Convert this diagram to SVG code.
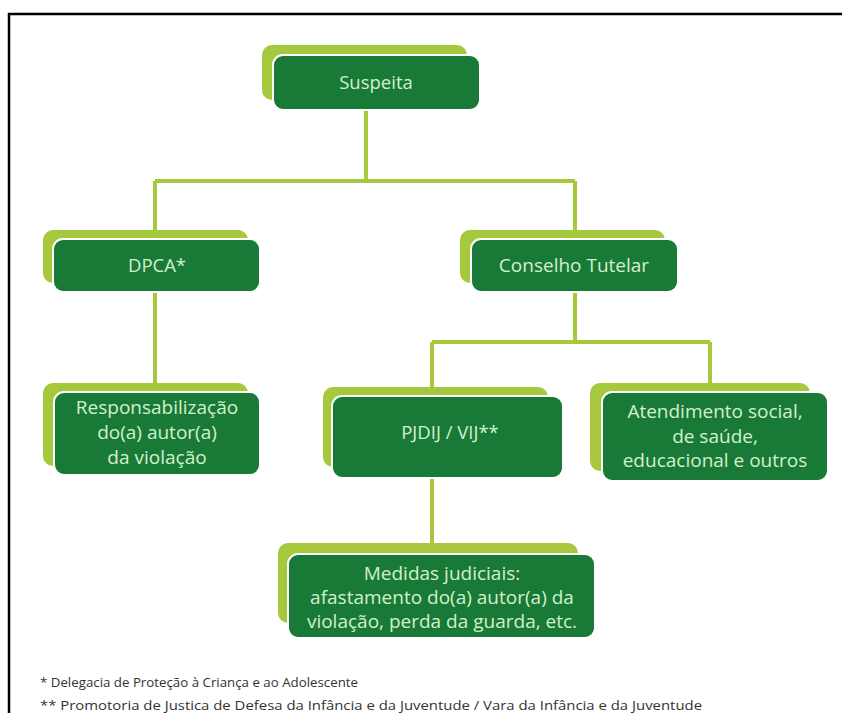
<svg xmlns="http://www.w3.org/2000/svg" width="842" height="713" viewBox="0 0 842 713">
<style>
.back{fill:#a5c83c}
.box{fill:#197a38;stroke:#ffffff;stroke-width:2}
.lbl{font-family:"Open Sans","DejaVu Sans",sans-serif;fill:#d3f0cc;text-anchor:middle}
.sm{font-size:18.5px}
.lg{font-size:19px}
.conn{fill:none;stroke:#a5c83c;stroke-width:4}
.note{font-family:"Open Sans","Liberation Sans",sans-serif;font-size:13px;fill:#333}
</style>
<rect width="842" height="713" fill="#ffffff"/>
<path d="M9 713 V14 H842" fill="none" stroke="#000" stroke-width="2.5"/>
<g id="connectors">
<path class="conn" d="M366 110 V181 M155 181 H575 M155 181 V238 M575 181 V238"/>
<path class="conn" d="M155 292 V391"/>
<path class="conn" d="M575 292 V342 M432 342 H710 M432 342 V396 M710 342 V391"/>
<path class="conn" d="M432 476 V554"/>
</g>
<g id="suspeita">
<rect class="back" x="262" y="45" width="205" height="55" rx="10"/>
<rect class="box" x="273" y="55" width="207" height="55" rx="10"/>
<text class="lbl sm" x="376" y="89">Suspeita</text>
</g>
<g id="dpca">
<rect class="back" x="43" y="230" width="205" height="53" rx="10"/>
<rect class="box" x="53" y="239" width="207" height="53" rx="10"/>
<text class="lbl sm" x="157" y="272">DPCA*</text>
</g>
<g id="conselho">
<rect class="back" x="460" y="230" width="205" height="53" rx="10"/>
<rect class="box" x="471" y="239" width="207" height="53" rx="10"/>
<text class="lbl lg" x="574" y="272">Conselho Tutelar</text>
</g>
<g id="responsabilizacao">
<rect class="back" x="43" y="383" width="205" height="83" rx="10"/>
<rect class="box" x="54" y="392" width="206" height="83" rx="10"/>
<text class="lbl lg" x="157" y="414">Responsabilização</text>
<text class="lbl lg" x="157" y="439">do(a) autor(a)</text>
<text class="lbl lg" x="157" y="464">da violação</text>
</g>
<g id="pjdij">
<rect class="back" x="323" y="387" width="225" height="80" rx="10"/>
<rect class="box" x="332" y="396" width="231" height="82" rx="10"/>
<text class="lbl sm" x="450" y="439">PJDIJ / VIJ**</text>
</g>
<g id="atendimento">
<rect class="back" x="590" y="383" width="220" height="88" rx="10"/>
<rect class="box" x="602" y="392" width="226" height="89" rx="10"/>
<text class="lbl lg" x="715" y="418">Atendimento social,</text>
<text class="lbl lg" x="715" y="443">de saúde,</text>
<text class="lbl lg" x="715" y="467">educacional e outros</text>
</g>
<g id="medidas">
<rect class="back" x="278" y="543" width="300" height="80" rx="10"/>
<rect class="box" x="288" y="554" width="307" height="84" rx="10"/>
<text class="lbl lg" x="442" y="580">Medidas judiciais:</text>
<text class="lbl lg" x="442" y="604">afastamento do(a) autor(a) da</text>
<text class="lbl lg" x="442" y="628">violação, perda da guarda, etc.</text>
</g>
<g id="footnotes">
<text class="note" x="40" y="687" textLength="318" lengthAdjust="spacingAndGlyphs">* Delegacia de Proteção à Criança e ao Adolescente</text>
<text class="note" x="40" y="710" textLength="662" lengthAdjust="spacingAndGlyphs">** Promotoria de Justica de Defesa da Infância e da Juventude / Vara da Infância e da Juventude</text>
</g>
</svg>
